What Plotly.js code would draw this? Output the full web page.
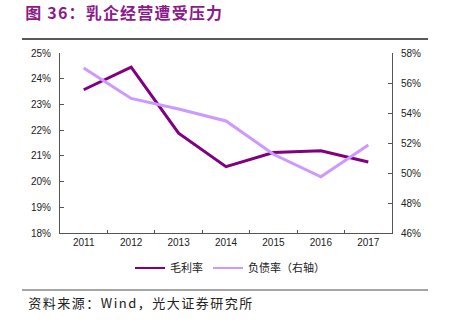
<!DOCTYPE html>
<html>
<head>
<meta charset="utf-8">
<script src="https://cdn.plot.ly/plotly-3.0.1.min.js"></script>
<style>
html,body{margin:0;padding:0;background:#fff;}
#chart{width:451px;height:325px;}
</style>
</head>
<body>
<div id="chart"></div>
<script>
const years = ['2011','2012','2013','2014','2015','2016','2017'];
const grossMargin = [23.57, 24.45, 21.88, 20.58, 21.13, 21.2, 20.76];
const debtRatio = [57.0, 54.97, 54.27, 53.47, 51.25, 49.75, 51.87];
const leftTicks = [18,19,20,21,22,23,24,25];
const rightTicks = [46,48,50,52,54,56,58];
const seriesNames = ['毛利率', '负债率（右轴）'];
const seriesColors = ['#800080', '#CC99FF'];

const tickFont = {family: 'Liberation Sans, Arial, sans-serif', size: 10, color: '#222'};

const traces = [
  {x: years, y: grossMargin, name: seriesNames[0], type: 'scatter', mode: 'lines',
   line: {color: seriesColors[0], width: 3}, yaxis: 'y', showlegend: false},
  {x: years, y: debtRatio, name: seriesNames[1], type: 'scatter', mode: 'lines',
   line: {color: seriesColors[1], width: 3}, yaxis: 'y2', showlegend: false},
  {x: [null], y: [null], name: seriesNames[0], type: 'scatter', mode: 'lines',
   line: {color: seriesColors[0], width: 2}, yaxis: 'y', showlegend: true},
  {x: [null], y: [null], name: seriesNames[1], type: 'scatter', mode: 'lines',
   line: {color: seriesColors[1], width: 2}, yaxis: 'y2', showlegend: true}
];

const plotH = 325 - 53 - 92;
const plotW = 451 - 60 - 59;
const px = v => (v - 60) / plotW;
const py = v => (233 - v) / plotH;

const layout = {
  width: 451, height: 325,
  margin: {l: 60, r: 59, t: 53, b: 92},
  paper_bgcolor: '#fff', plot_bgcolor: '#fff',
  showlegend: true,
  legend: {orientation: 'h', x: px(230), xanchor: 'center', y: py(268), yanchor: 'middle',
    font: {family: 'Noto Sans CJK SC, sans-serif', size: 11, color: '#222'},
    itemwidth: 30, tracegroupgap: 0},
  xaxis: {type: 'category', tickvals: years, ticktext: years, tickson: 'boundaries',
    ticks: 'inside', ticklen: 3, tickcolor: '#555', showline: true, linecolor: '#555', linewidth: 1,
    showgrid: false, zeroline: false, tickfont: tickFont, range: [-0.5, 6.5]},
  yaxis: {range: [18, 25], tickvals: leftTicks, ticktext: leftTicks.map(v => v + '%'),
    ticks: 'inside', ticklen: 4, tickcolor: '#555', showline: true, linecolor: '#555', linewidth: 1,
    showgrid: false, zeroline: false, tickfont: tickFont, ticklabelstandoff: 6},
  yaxis2: {range: [46, 58], overlaying: 'y', side: 'right', tickvals: rightTicks,
    ticktext: rightTicks.map(v => v + '%'),
    ticks: 'inside', ticklen: 4, tickcolor: '#555', showline: true, linecolor: '#555', linewidth: 1,
    showgrid: false, zeroline: false, tickfont: tickFont, ticklabelstandoff: 6},
  annotations: [
    {text: '<b>图 36：乳企经营遭受压力</b>', xref: 'paper', yref: 'paper', x: px(31), y: py(12),
     xanchor: 'left', yanchor: 'middle', showarrow: false,
     font: {family: 'Noto Sans CJK SC, sans-serif', size: 16, color: '#8B1A8B'}},
    {text: '资料来源：Wind，光大证券研究所', xref: 'paper', yref: 'paper', x: px(39), y: py(302),
     xanchor: 'left', yanchor: 'middle', showarrow: false,
     font: {family: 'Noto Sans CJK SC, sans-serif', size: 13, color: '#222'}}
  ],
  shapes: [
    {type: 'line', xref: 'paper', yref: 'paper', x0: px(22), x1: px(428), y0: py(39), y1: py(39),
     line: {color: '#222', width: 1.5}},
    {type: 'line', xref: 'paper', yref: 'paper', x0: px(22), x1: px(428), y0: py(290), y1: py(290),
     line: {color: '#888', width: 1.5}}
  ]
};

Plotly.newPlot('chart', traces, layout, {displayModeBar: false, staticPlot: true}).then(() => {
  const anns = document.querySelectorAll('.annotation-text');
  const spacing = ['1.2px', '1.5px'];
  anns.forEach((t, i) => { t.style.letterSpacing = spacing[i] || '0px'; });
});
</script>
</body>
</html>
